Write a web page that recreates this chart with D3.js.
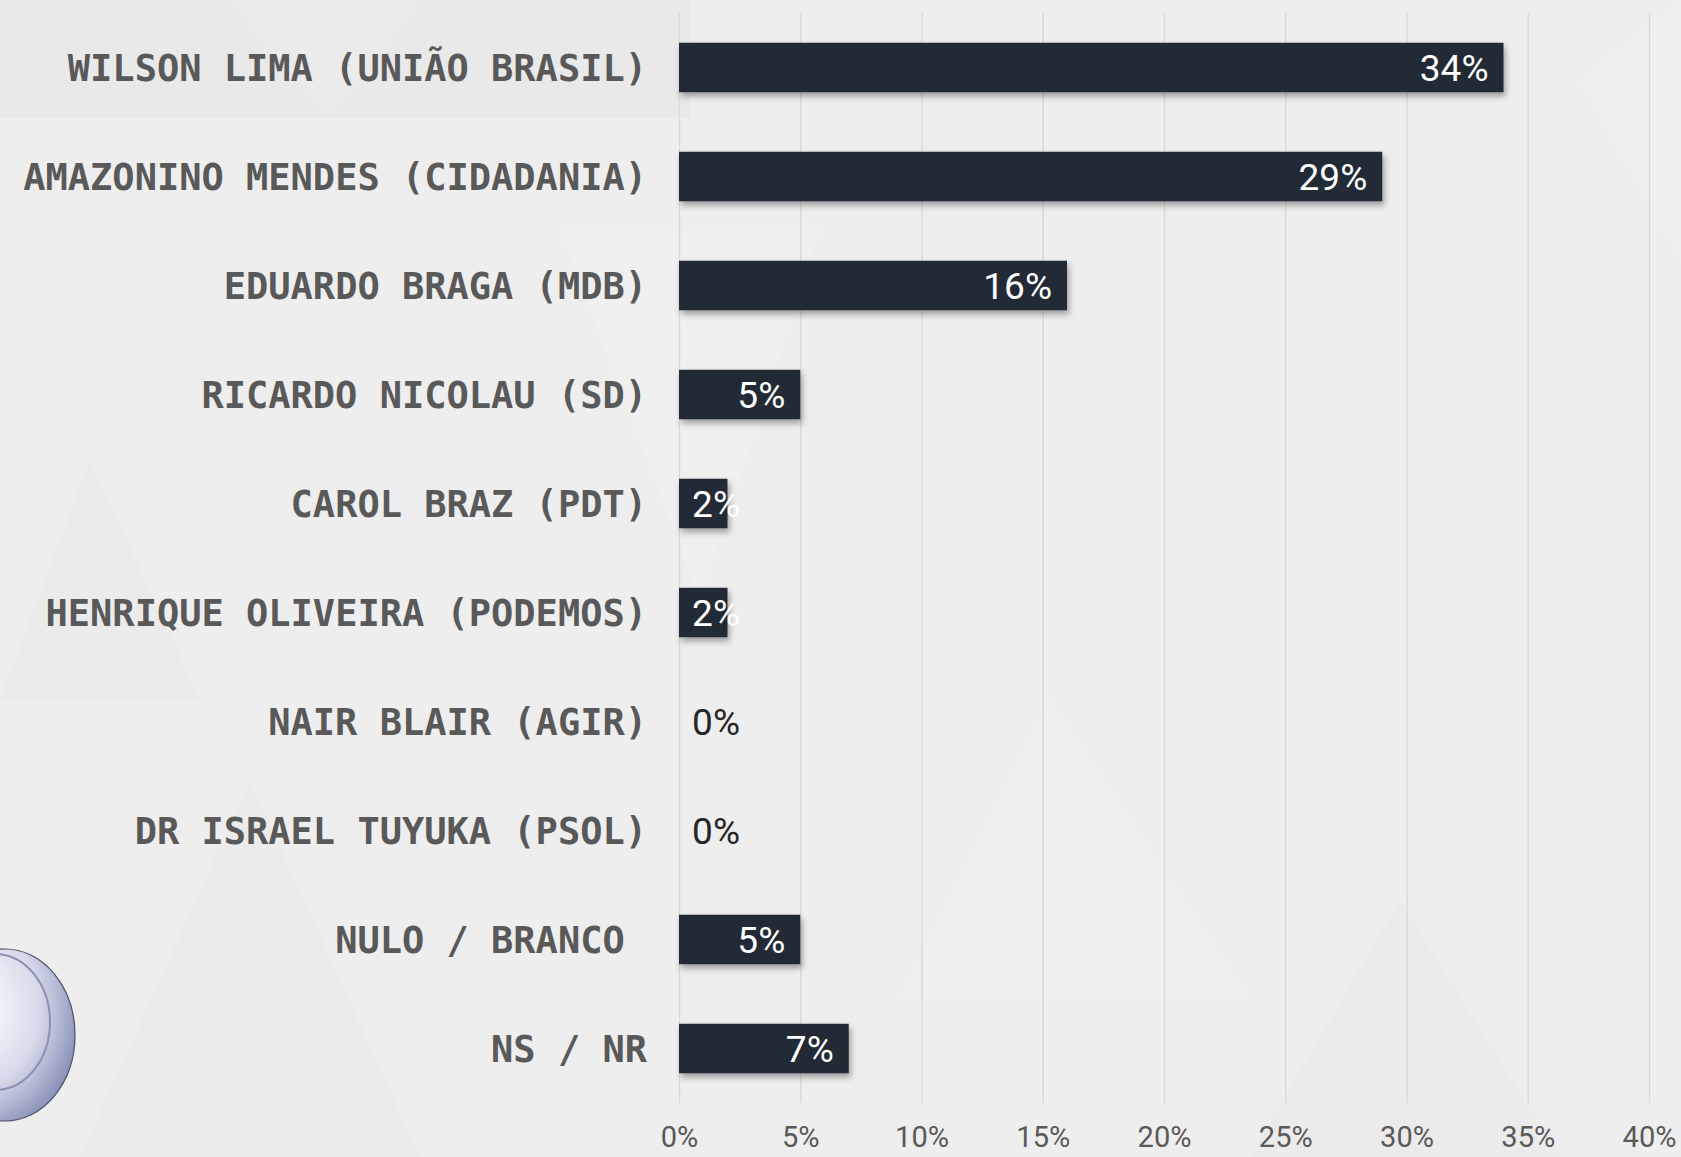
<!DOCTYPE html>
<html>
  <head>
    <title>Pesquisa Amazonas</title>
    <meta charset="utf-8" />
    <style>
      body { margin: 0; background: #eeeeee; }
      svg { display: block; }
    </style>
  </head>
  <body>
    <div id="plot"></div>

    <script src="https://d3js.org/d3.v7.min.js"></script>
    <script>
      // data
      const candidates = [
        "WILSON LIMA (UNIÃO BRASIL)",
        "AMAZONINO MENDES (CIDADANIA)",
        "EDUARDO BRAGA (MDB)",
        "RICARDO NICOLAU (SD)",
        "CAROL BRAZ (PDT)",
        "HENRIQUE OLIVEIRA (PODEMOS)",
        "NAIR BLAIR (AGIR)",
        "DR ISRAEL TUYUKA (PSOL)",
        "NULO / BRANCO ",
        "NS / NR"
      ];
      const values = [34, 29, 16, 5, 2, 2, 0, 0, 5, 7];
      const tickValues = [0, 5, 10, 15, 20, 25, 30, 35, 40];

      const width = 1681,
        height = 1157;

      const svg = d3
        .select("#plot")
        .append("svg")
        .attr("width", width)
        .attr("height", height);

      // background
      svg.append("rect")
        .attr("width", width)
        .attr("height", height)
        .attr("fill", "#eeeeee");
      svg.append("rect")
        .attr("width", 690)
        .attr("height", 118)
        .attr("fill", "#e9e9e9");

      // faint triangles in the background
      const shapes = [
        [[230, 0], [330, 118], [420, 0]],
        [[560, 230], [700, 600], [820, 230]],
        [[1400, 900], [1560, 1157], [1250, 1157]],
        [[1050, 700], [1250, 1000], [900, 1000]],
        [[250, 780], [420, 1157], [80, 1157]],
        [[1580, 80], [1681, 0], [1681, 260]],
        [[90, 460], [200, 700], [0, 700]]
      ];
      svg.append("g")
        .selectAll("path")
        .data(shapes)
        .join("path")
        .attr("d", d => "M" + d.join("L") + "Z")
        .attr("fill", (d, i) => i % 2 ? "#f0f0f0" : "#ebebeb");

      // logo bit in the corner
      const defs = svg.append("defs");
      const grad = defs.append("radialGradient")
        .attr("id", "logo")
        .attr("cx", "30%").attr("cy", "35%").attr("r", "75%");
      grad.append("stop").attr("offset", "0%").attr("stop-color", "#ffffff");
      grad.append("stop").attr("offset", "60%").attr("stop-color", "#d7daea");
      grad.append("stop").attr("offset", "100%").attr("stop-color", "#8990b8");
      svg.append("ellipse")
        .attr("cx", 5).attr("cy", 1035)
        .attr("rx", 70).attr("ry", 86)
        .attr("fill", "url(#logo)")
        .attr("stroke", "#4c5068")
        .attr("stroke-width", 1.2);
      svg.append("ellipse")
        .attr("cx", -5).attr("cy", 1022)
        .attr("rx", 55).attr("ry", 68)
        .attr("fill", "none")
        .attr("stroke", "#8a90b0")
        .attr("stroke-width", 2);

      const shadow = defs.append("filter")
        .attr("id", "shadow")
        .attr("x", "-10%").attr("y", "-30%")
        .attr("width", "130%").attr("height", "180%");
      shadow.append("feDropShadow")
        .attr("dx", 2).attr("dy", 4)
        .attr("stdDeviation", 3)
        .attr("flood-color", "#000")
        .attr("flood-opacity", 0.35);

      // scales
      const x = d3.scaleLinear()
        .domain([0, 40])
        .range([679, 1649]);

      const y = d3.scaleBand()
        .domain(candidates)
        .range([13, 1103])
        .paddingInner(0.546)
        .paddingOuter(0.273);

      // grid + tick labels
      const axis = svg.append("g")
        .attr("transform", `translate(0, ${y.range()[1]})`)
        .call(
          d3.axisBottom(x)
            .tickValues(tickValues)
            .tickFormat(d => d + "%")
            .tickSize(-(y.range()[1] - y.range()[0]))
            .tickPadding(23)
        );
      axis.select(".domain").remove();
      axis.selectAll(".tick line")
        .attr("stroke", "#d9d9d9")
        .attr("stroke-width", 1.5);
      axis.selectAll(".tick text")
        .attr("fill", "#595959")
        .style("font-family", "'Liberation Sans Narrow', 'Roboto', sans-serif")
        .style("font-size", "29px");

      // bars
      svg.append("g")
        .selectAll("rect")
        .data(values)
        .join("rect")
        .attr("x", x(0))
        .attr("y", (d, i) => y(candidates[i]))
        .attr("width", d => x(d) - x(0))
        .attr("height", y.bandwidth())
        .attr("fill", "#222a35")
        .attr("filter", "url(#shadow)")
        .style("display", d => d > 0 ? null : "none");

      // value labels
      svg.append("g")
        .selectAll("text")
        .data(values)
        .join("text")
        .attr("x", d => Math.max(x(d) - 15, x(0) + 61))
        .attr("y", (d, i) => y(candidates[i]) + y.bandwidth() / 2)
        .attr("dy", "0.36em")
        .attr("text-anchor", "end")
        .attr("fill", d => d > 0 ? "#ffffff" : "#262626")
        .style("font-family", "'Liberation Sans Narrow', 'Roboto', sans-serif")
        .style("font-size", "37px")
        .text(d => d + "%");

      // category labels
      svg.append("g")
        .selectAll("text")
        .data(candidates)
        .join("text")
        .attr("x", 647)
        .attr("y", d => y(d) + y.bandwidth() / 2)
        .attr("dy", "0.36em")
        .attr("text-anchor", "end")
        .attr("fill", "#595959")
        .style("white-space", "pre")
        .style("font-family", "'DejaVu Sans Mono', monospace")
        .style("font-weight", "bold")
        .style("font-size", "37px")
        .text(d => d);
    </script>
  </body>
</html>
